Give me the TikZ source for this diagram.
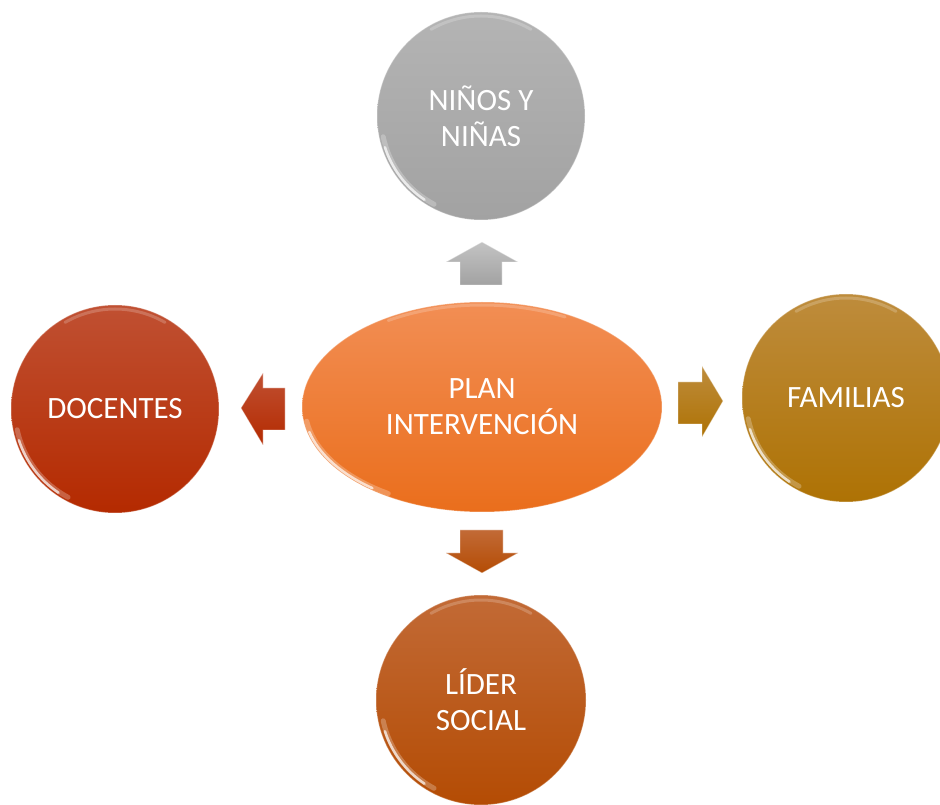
\documentclass[tikz,border=0pt]{standalone}
\usepackage{fontspec}
\setmainfont{Carlito}
\usetikzlibrary{shapes.geometric}
\definecolor{grayT}{RGB}{180,180,180}
\definecolor{grayB}{RGB}{162,162,162}
\definecolor{redT}{RGB}{192,80,50}
\definecolor{redB}{RGB}{180,42,0}
\definecolor{goldT}{RGB}{190,140,60}
\definecolor{goldB}{RGB}{174,114,4}
\definecolor{brnT}{RGB}{194,106,54}
\definecolor{brnB}{RGB}{180,76,4}
\definecolor{orgT}{RGB}{242,142,84}
\definecolor{orgB}{RGB}{234,110,28}
\tikzset{
  bubble/.style={circle, minimum size=208pt, inner sep=0pt, text=white, align=center,
    font=\fontsize{31}{36}\selectfont, draw=white, draw opacity=0.3, line width=1pt},
  hub/.style={ellipse, minimum width=360pt, minimum height=210pt, inner sep=0pt, text=white,
    align=center, font=\fontsize{31}{36}\selectfont, draw=white, draw opacity=0.3, line width=1pt,
    top color=orgT, bottom color=orgB},
  blockarrow/.style={draw=white, draw opacity=0.4, line width=0.8pt, line join=miter},
  gloss/.style={white, line width=2.5pt, opacity=0.7, line cap=round},
  glosswide/.style={white, line width=5pt, opacity=0.25, line cap=round},
  rim/.style={white, line width=3pt, opacity=0.2, line cap=round}
}
\begin{document}
\begin{tikzpicture}[x=1pt,y=1pt]
\useasboundingbox (0,0) rectangle (940,804);
\begin{scope}
\clip (0,0) rectangle (940,804);
% nodes
\node[hub] (E) at (482,397) {PLAN\\INTERVENCIÓN};
\node[bubble, top color=grayT, bottom color=grayB] (T) at (481,688) {NIÑOS Y\\NIÑAS};
\node[bubble, top color=redT, bottom color=redB] (L) at (115,395) {DOCENTES};
\node[bubble, top color=goldT, bottom color=goldB] (R) at (846,406) {FAMILIAS};
\node[bubble, top color=brnT, bottom color=brnB, minimum size=210pt] (B) at (481,104) {LÍDER\\SOCIAL};
% gloss highlights
\foreach \n in {T,L,R,B}{
  \draw[glosswide] ([shift={(192:100)}]\n.center) arc[start angle=192, end angle=242, radius=100];
  \draw[gloss] ([shift={(198:101)}]\n.center) arc[start angle=198, end angle=236, radius=101];
  \draw[rim] ([shift={(60:100)}]\n.center) arc[start angle=60, end angle=120, radius=100];
}
\draw[glosswide] ([shift={(188:177 and 102)}]E.center) arc[start angle=188, end angle=238, x radius=177, y radius=102];
\draw[gloss] ([shift={(194:178 and 103)}]E.center) arc[start angle=194, end angle=232, x radius=178, y radius=103];
\draw[rim] ([shift={(62:177 and 102)}]E.center) arc[start angle=62, end angle=122, x radius=177, y radius=102];
% block arrows
\path[blockarrow, top color=grayT!80!white, bottom color=grayB]
  (446,542) -- (482,562) -- (518,542) -- (502,542) -- (502,519) -- (460,519) -- (460,542) -- cycle;
\path[blockarrow, top color=redT, bottom color=redB]
  (241,396) -- (263,431) -- (263,416) -- (285,416) -- (285,374) -- (263,374) -- (263,359) -- cycle;
\path[blockarrow, top color=goldT, bottom color=goldB]
  (678,422) -- (702,422) -- (702,438) -- (723,403) -- (702,367) -- (702,380) -- (678,380) -- cycle;
\path[blockarrow, top color=brnT, bottom color=brnB]
  (460,274) -- (503,274) -- (503,251) -- (518,251) -- (482,231) -- (446,251) -- (460,251) -- cycle;
\end{scope}
\end{tikzpicture}
\end{document}
